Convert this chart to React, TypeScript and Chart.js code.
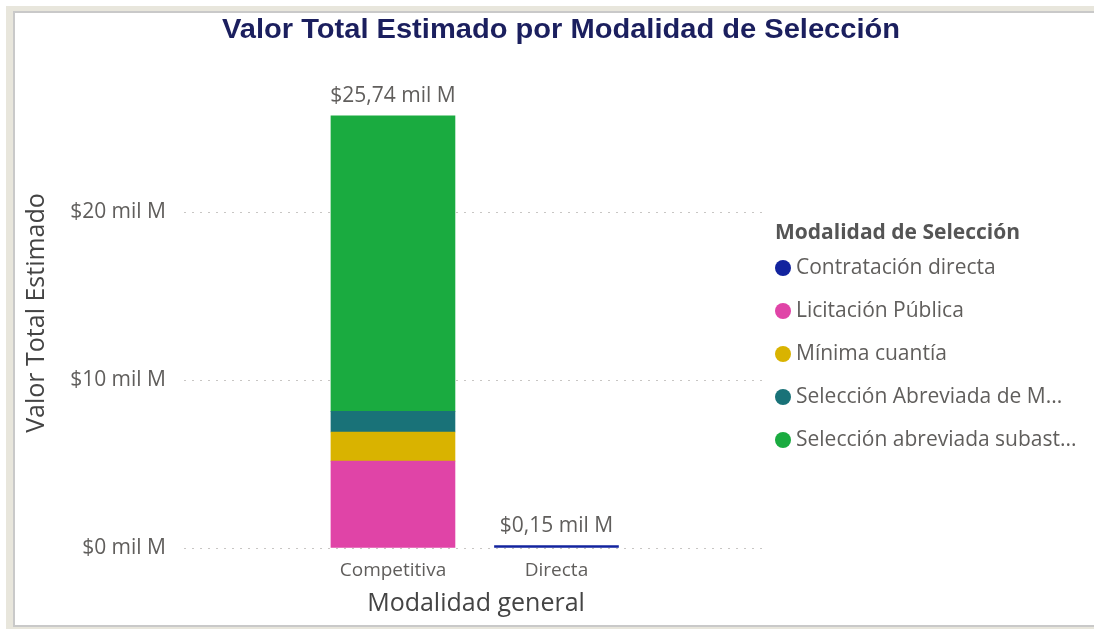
import React, { useEffect, useRef } from "react";
import { Chart, registerables } from "chart.js";

Chart.register(...registerables);

const TITLE = "Valor Total Estimado por Modalidad de Selección";
const LEGEND_TITLE = "Modalidad de Selección";
const X_TITLE = "Modalidad general";
const Y_TITLE = "Valor Total Estimado";

const categories = ["Competitiva", "Directa"];
const seriesNames = [
  "Contratación directa",
  "Licitación Pública",
  "Mínima cuantía",
  "Selección Abreviada de M...",
  "Selección abreviada subast...",
];
const seriesColors = ["#12239E", "#E044A7", "#D9B300", "#197278", "#1AAB40"];

// values in "mil M" (thousands of millions)
const contratacionDirecta = [null, 0.15];
const licitacionPublica = [5.18, null];
const minimaCuantia = [1.73, null];
const seleccionAbreviadaMenor = [1.23, null];
const seleccionAbreviadaSubasta = [17.6, null];

const seriesValues = [
  contratacionDirecta,
  licitacionPublica,
  minimaCuantia,
  seleccionAbreviadaMenor,
  seleccionAbreviadaSubasta,
];

const yTicks = [0, 10, 20];
const Y_MAX = 28;

const fmt = (v: number) => "$" + v.toFixed(2).replace(".", ",") + " mil M";

const FONT = "'Segoe UI', 'Open Sans', 'Noto Sans', sans-serif";
const GRAY = "#605E5C";

export default function App() {
  const ref = useRef<HTMLCanvasElement | null>(null);

  useEffect(() => {
    if (!ref.current) return;

    const datasets = seriesNames.map((name, s) => ({
      label: name,
      backgroundColor: seriesColors[s],
      borderWidth: 0,
      barThickness: 124,
      data: seriesValues[s]
        .map((v, i) => (v == null ? null : { x: i, y: v }))
        .filter((p) => p !== null),
    }));

    const overlay = {
      id: "overlay",
      afterDraw(chart: any) {
        const { ctx } = chart;
        const xs = chart.scales.x;
        const ys = chart.scales.y;
        ctx.save();
        // title
        ctx.fillStyle = "#1B1F5E";
        ctx.font = "bold 27px 'Liberation Sans', Arial, sans-serif";
        ctx.textAlign = "center";
        ctx.textBaseline = "middle";
        const w = ctx.measureText(TITLE).width;
        const sx = 678 / w;
        ctx.save();
        ctx.translate(561, 31);
        ctx.scale(sx, 1);
        ctx.fillText(TITLE, 0, 0);
        ctx.restore();

        // totals
        ctx.fillStyle = GRAY;
        ctx.font = `21px ${FONT}`;
        ctx.textAlign = "center";
        ctx.textBaseline = "bottom";
        categories.forEach((_, i) => {
          let total = 0;
          seriesValues.forEach((arr) => {
            const v = arr[i];
            if (v != null) total += v;
          });
          const px = xs.getPixelForValue(i);
          const py = ys.getPixelForValue(total);
          ctx.fillText(fmt(total), px, py - 9);
        });

        // legend
        ctx.textAlign = "left";
        ctx.textBaseline = "middle";
        ctx.font = `bold 21px ${FONT}`;
        ctx.fillStyle = "#555555";
        ctx.fillText(LEGEND_TITLE, 775, 233);
        ctx.font = `21px ${FONT}`;
        chart.data.datasets.forEach((ds: any, i: number) => {
          const y = 268 + i * 43;
          ctx.beginPath();
          ctx.fillStyle = ds.backgroundColor;
          ctx.arc(783, y, 8, 0, Math.PI * 2);
          ctx.fill();
          ctx.fillStyle = GRAY;
          ctx.fillText(ds.label, 796, y);
        });
        ctx.restore();
      },
    };

    const chart = new Chart(ref.current, {
      type: "bar",
      data: { datasets: datasets as any },
      options: {
        animation: false,
        responsive: false,
        devicePixelRatio: 1,
        layout: { padding: { left: 14, right: 326, top: 78, bottom: 0 } },
        plugins: {
          legend: { display: false },
          title: { display: false },
          tooltip: { enabled: false },
        },
        scales: {
          x: {
            type: "linear",
            stacked: true,
            offset: false,
            min: -1.278,
            max: 2.2936,
            grid: { display: false, drawTicks: false },
            border: { display: false },
            ticks: {
              stepSize: 1,
              autoSkip: false,
              maxRotation: 0,
              minRotation: 0,
              padding: 11,
              color: GRAY,
              font: { family: FONT, size: 19 },
              callback: (v: any) =>
                Number.isInteger(v) && categories[v] ? categories[v] : "",
            },
            title: {
              display: true,
              text: X_TITLE,
              color: "#444444",
              font: { family: FONT, size: 25 },
              padding: { top: 0, bottom: 10 },
            },
            afterFit: (scale: any) => {
              scale.height = 81;
            },
          },
          y: {
            stacked: true,
            min: 0,
            max: Y_MAX,
            grid: {
              color: (c: any) =>
                c.tick && yTicks.includes(c.tick.value) ? "#C8C6C4" : "rgba(0,0,0,0)",
              lineWidth: 1,
              drawTicks: false,
            },
            border: { display: false, dash: [2, 6] },
            ticks: {
              stepSize: 10,
              padding: 18,
              color: GRAY,
              font: { family: FONT, size: 21 },
              callback: (v: any) => (yTicks.includes(v) ? "$" + v + " mil M" : ""),
            },
            title: {
              display: true,
              text: Y_TITLE,
              color: "#444444",
              font: { family: FONT, size: 25 },
              padding: { top: 8, bottom: 0 },
            },
            afterFit: (scale: any) => {
              scale.width = 184 - 14;
            },
          },
        },
      },
      plugins: [overlay],
    });

    return () => chart.destroy();
  }, []);

  return (
    <div style={{ position: "fixed", inset: 0, background: "#ffffff", overflow: "hidden" }}>
      <div
        style={{
          position: "absolute",
          left: 6,
          top: 6,
          right: 0,
          bottom: 0,
          background: "#E8E6DC",
        }}
      />
      <div
        style={{
          position: "absolute",
          left: 13,
          top: 11,
          right: 0,
          bottom: 2,
          background: "#ffffff",
          borderLeft: "2px solid #C9C9C9",
          borderTop: "2px solid #C9C9C9",
          borderBottom: "2px solid #C9C9C9",
          boxSizing: "border-box",
        }}
      />
      <canvas
        ref={ref}
        width={1094}
        height={629}
        style={{ position: "absolute", left: 0, top: 0, width: 1094, height: 629 }}
      />
    </div>
  );
}
